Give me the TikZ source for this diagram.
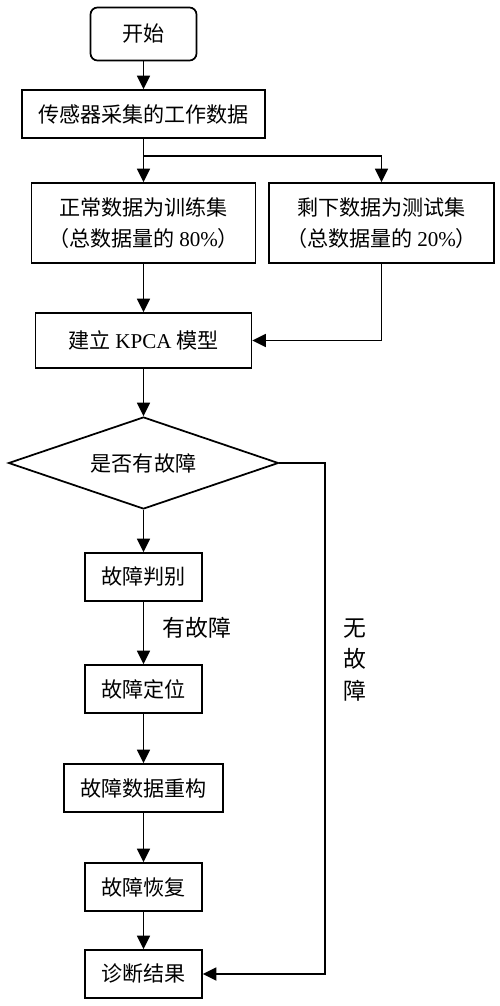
\documentclass[tikz,border=0pt]{standalone}
\usepackage{fontspec}
\setmainfont{Liberation Serif}
\newfontfamily\cjk{Noto Sans CJK SC}
\usetikzlibrary{shapes.geometric,arrows.meta}

\begin{document}
\begin{tikzpicture}[
    box/.style={draw, line width=1pt, minimum height=0.96cm, inner sep=0pt,
        align=center, font=\fontsize{12}{18}\selectfont\cjk},
    startbox/.style={box, rounded corners=0.14cm},
    decision/.style={box, diamond, shape aspect=2.93, minimum width=5.4cm, minimum height=1.84cm},
    arrow/.style={line width=1pt, -{Triangle[length=2.7mm,width=2.6mm]}},
    tag/.style={inner sep=0pt, align=center, font=\fontsize{13}{18}\selectfont\cjk}
]
    \useasboundingbox (0,0) rectangle (10,-20.12);

    % Main column
    \node[startbox, minimum width=2.12cm, minimum height=1.06cm] (start) at (2.87,-0.68) {开始};
    \node[box, minimum width=4.86cm] (data) at (2.87,-2.28) {传感器采集的工作数据};
    \node[box, minimum width=4.48cm, minimum height=1.6cm] (train) at (2.87,-4.46)
        {正常数据为训练集\\（总数据量的 {\rmfamily 80\%}）};
    \node[box, minimum width=4.5cm, minimum height=1.6cm] (test) at (7.63,-4.46)
        {剩下数据为测试集\\（总数据量的 {\rmfamily 20\%}）};
    \node[box, minimum width=4.32cm, minimum height=1.1cm] (kpca) at (2.87,-6.81)
        {建立 {\rmfamily KPCA} 模型};
    \node[decision] (check) at (2.87,-9.26) {是否有故障};
    \node[box, minimum width=2.34cm] (judge) at (2.87,-11.54) {故障判别};
    \node[box, minimum width=2.34cm] (locate) at (2.87,-13.78) {故障定位};
    \node[box, minimum width=3.18cm] (rebuild) at (2.87,-15.76) {故障数据重构};
    \node[box, minimum width=2.34cm] (recover) at (2.87,-17.74) {故障恢复};
    \node[box, minimum width=2.34cm] (result) at (2.87,-19.48) {诊断结果};

    % Connectors
    \coordinate (split) at (2.87,-3.12);
    \coordinate (bypass) at (6.5,-9.26);
    \draw[arrow] (start) -- (data);
    \draw[arrow] (data) -- (train);
    \draw[arrow] (split) -| (test.north);
    \draw[arrow] (train) -- (kpca);
    \draw[arrow] (test.south) |- (kpca.east);
    \draw[arrow] (kpca) -- (check);
    \draw[arrow] (check) -- (judge);
    \draw[arrow] (judge) -- (locate);
    \draw[arrow] (locate) -- (rebuild);
    \draw[arrow] (rebuild) -- (recover);
    \draw[arrow] (recover) -- (result);
    \draw[arrow] (check.east) -- (bypass) |- (result.east);

    % Labels
    \node[tag] (faulty) at (3.94,-12.56) {有故障};
    \node[tag] (healthy) at (7.1,-13.2) {无\\故\\障};
\end{tikzpicture}
\end{document}
